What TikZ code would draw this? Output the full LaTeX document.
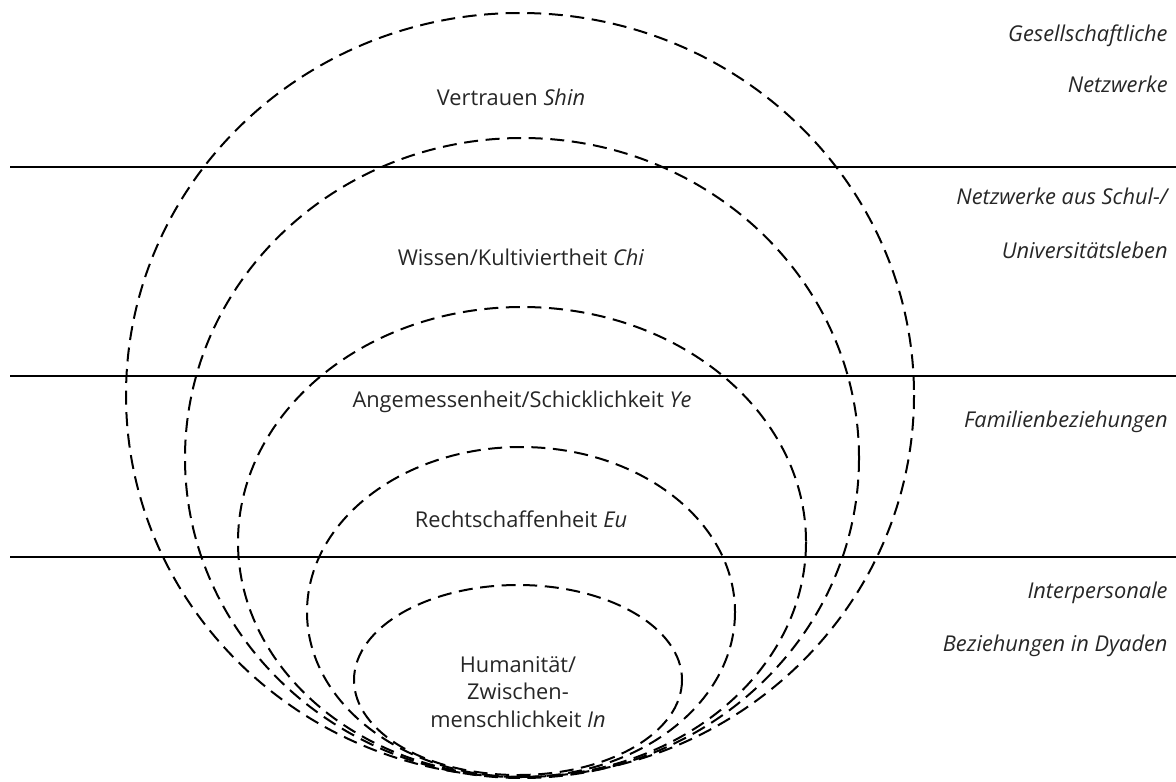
\documentclass[tikz,border=0pt]{standalone}
\usepackage{fontspec}
\setmainfont{Open Sans}
\begin{document}
\begin{tikzpicture}[x=0.5pt,y=-0.5pt,
  ring/.style={draw=black,line width=1pt,dash pattern=on 7pt off 3.8pt},
  sep/.style={draw=black,line width=1pt},
  lbl/.style={inner sep=0pt,font=\fontsize{10.9}{12}\selectfont,text=black!85},
  side/.style={inner sep=0pt,anchor=base east,font=\fontsize{10.9}{12}\selectfont\itshape,text=black!85},
  inner/.style={lbl,align=center}]
\useasboundingbox (0,0) rectangle (1176,781);
% separators
\draw[sep] (10,167) -- (1176,167);
\draw[sep] (10,376) -- (1176,376);
\draw[sep] (10,557) -- (1176,557);
% nested rings
\draw[ring] (520,395) ellipse [x radius=394, y radius=382];
\draw[ring] (522,458) ellipse [x radius=337, y radius=320];
\draw[ring] (522,542) ellipse [x radius=284, y radius=235];
\draw[ring] (521,612) ellipse [x radius=214, y radius=165];
\draw[ring] (518,680) ellipse [x radius=164, y radius=95];
% ring labels
\node[lbl,anchor=base] (shin) at (511,105) {Vertrauen \textit{Shin}};
\node[lbl,anchor=base] (chi) at (521,265) {Wissen/Kultiviertheit \textit{Chi}};
\node[lbl,anchor=base] (ye) at (522,407) {Angemessenheit/Schicklichkeit \textit{Ye}};
\node[lbl,anchor=base] (eu) at (521,527) {Rechtschaffenheit \textit{Eu}};
\node[lbl,anchor=base] (in1) at (518,672) {Humanität/};
\node[lbl,anchor=base] (in2) at (518,699) {Zwischen-};
\node[lbl,anchor=base] (in3) at (518,727) {menschlichkeit \textit{In}};
% side labels
\node[side] (g1) at (1168,42) {Gesellschaftliche};
\node[side] (g2) at (1168,93) {Netzwerke};
\node[side] (s1) at (1168,204) {Netzwerke aus Schul-/};
\node[side] (s2) at (1168,258) {Universitätsleben};
\node[side] (f1) at (1168,427) {Familienbeziehungen};
\node[side] (d1) at (1168,598) {Interpersonale};
\node[side] (d2) at (1168,651) {Beziehungen in Dyaden};
\end{tikzpicture}
\end{document}
